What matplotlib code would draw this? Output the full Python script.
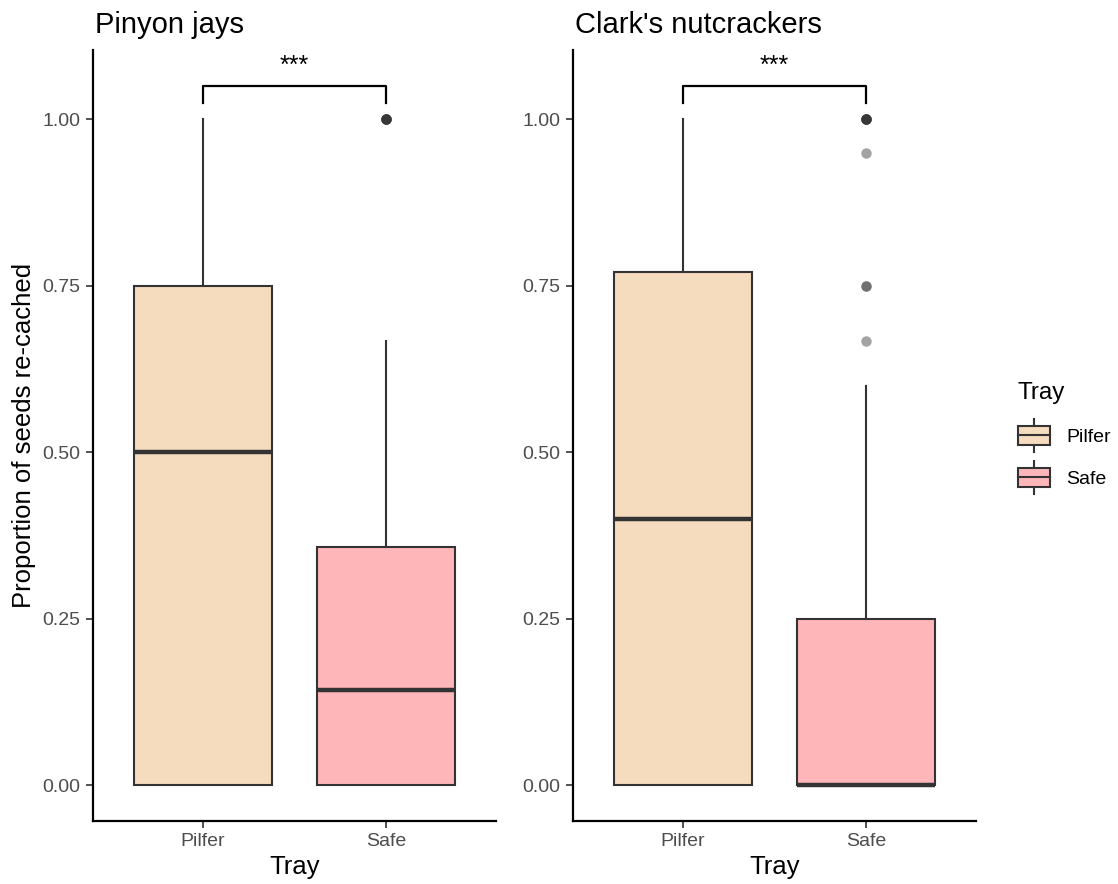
import matplotlib.pyplot as plt
from matplotlib.patches import Rectangle
from matplotlib.lines import Line2D
from matplotlib.legend_handler import HandlerBase

plt.rcParams['font.family'] = ['Liberation Sans', 'DejaVu Sans']

# Data (box stats per tray)
trays = ['Pilfer', 'Safe']
colors = ['#F6DCBF', '#FFB6B9']

pinyon_low = [0.0, 0.0]
pinyon_q1 = [0.0, 0.0]
pinyon_med = [0.5, 0.143]
pinyon_q3 = [0.75, 0.357]
pinyon_high = [1.0, 0.667]
pinyon_fliers = [[], [1.0, 1.0, 1.0, 1.0, 1.0, 1.0]]

clark_low = [0.0, 0.0]
clark_q1 = [0.0, 0.0]
clark_med = [0.4, 0.0]
clark_q3 = [0.77, 0.25]
clark_high = [1.0, 0.6]
clark_fliers = [[], [1.0, 1.0, 1.0, 1.0, 1.0, 1.0, 0.95, 0.75, 0.75, 0.667]]

titles = ['Pinyon jays', "Clark's nutcrackers"]
signif = ['***', '***']

edge = '#333333'
fig = plt.figure(figsize=(11.18, 8.84), dpi=100)
ax1 = fig.add_axes([0.0832, 0.0713, 0.3605, 0.8721])
ax2 = fig.add_axes([0.5125, 0.0713, 0.3605, 0.8721])

panels = [
    (ax1, pinyon_low, pinyon_q1, pinyon_med, pinyon_q3, pinyon_high, pinyon_fliers),
    (ax2, clark_low, clark_q1, clark_med, clark_q3, clark_high, clark_fliers),
]

for i, (ax, lo, q1, med, q3, hi, fl) in enumerate(panels):
    stats = []
    for j in range(len(trays)):
        stats.append(dict(whislo=lo[j], q1=q1[j], med=med[j], q3=q3[j],
                          whishi=hi[j], fliers=[], label=trays[j]))
    bp = ax.bxp(stats, positions=[1, 2], widths=0.75, patch_artist=True,
                showfliers=False, showcaps=False,
                boxprops=dict(edgecolor=edge, linewidth=1.5),
                whiskerprops=dict(color=edge, linewidth=1.5),
                medianprops=dict(color=edge, linewidth=3.2, solid_capstyle='butt'))
    for patch, c in zip(bp['boxes'], colors):
        patch.set_facecolor(c)
    # outliers, semi-transparent so overlaps look darker
    for j, pts in enumerate(fl):
        for v in pts:
            ax.plot(j + 1, v, 'o', color=edge, alpha=0.45, markersize=7.5,
                    markeredgewidth=0, zorder=4)

    # significance bracket
    ax.plot([1, 1, 2, 2], [1.025, 1.05, 1.05, 1.025], color='black',
            linewidth=1.6, zorder=5)
    ax.text(1.5, 1.062, signif[i], ha='center', va='bottom', fontsize=18)

    ax.set_xlim(0.4, 2.6)
    ax.set_ylim(-0.054, 1.104)
    ax.set_xticks([1, 2])
    ax.set_xticklabels(trays)
    ax.set_yticks([0, 0.25, 0.5, 0.75, 1.0])
    ax.set_yticklabels(['0.00', '0.25', '0.50', '0.75', '1.00'])
    ax.tick_params(axis='both', labelsize=14, labelcolor='#4D4D4D',
                   color=edge, length=5, width=1.2, pad=4)
    for s in ['top', 'right']:
        ax.spines[s].set_visible(False)
    for s in ['left', 'bottom']:
        ax.spines[s].set_linewidth(1.6)
        ax.spines[s].set_color('black')
    ax.set_xlabel('Tray', fontsize=18.5, labelpad=3)
    ax.set_title(titles[i], fontsize=21, loc='left', pad=12, x=0.005)

ax1.set_ylabel('Proportion of seeds re-cached', fontsize=18.5, labelpad=5)


class BoxKey(HandlerBase):
    def create_artists(self, legend, orig_handle, xdescent, ydescent,
                       width, height, fontsize, trans):
        fc = orig_handle.get_facecolor()
        cx = width / 2 - xdescent
        bw = width
        y0 = -ydescent
        rect = Rectangle((cx - bw / 2, y0), bw, height, facecolor=fc,
                         edgecolor=edge, linewidth=1.5, transform=trans)
        med = Line2D([cx - bw / 2, cx + bw / 2], [y0 + height / 2] * 2,
                     color=edge, linewidth=1.5, transform=trans)
        w1 = Line2D([cx, cx], [y0 + height, y0 + height + 5], color=edge,
                    linewidth=1.5, transform=trans)
        w2 = Line2D([cx, cx], [y0 - 5, y0], color=edge, linewidth=1.5,
                    transform=trans)
        return [w1, w2, rect, med]


handles = [Rectangle((0, 0), 1, 1, facecolor=c) for c in colors]
leg = fig.legend(handles, trays, title='Tray', loc='center left',
                 bbox_to_anchor=(0.898, 0.508), frameon=False, fontsize=14,
                 title_fontsize=17.5, handler_map={Rectangle: BoxKey()},
                 handlelength=1.65, handleheight=1.15, labelspacing=1.12,
                 handletextpad=0.85, borderpad=0.2)
leg._legend_box.align = 'left'

fig.savefig('out.png', dpi=100)
